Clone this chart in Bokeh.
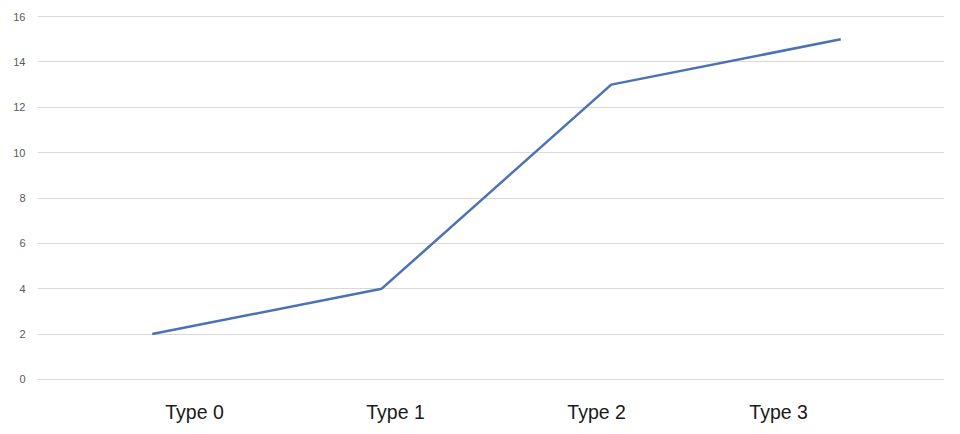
from bokeh.plotting import figure
from bokeh.models import FixedTicker, Range1d
from bokeh.embed import file_html
from bokeh.resources import INLINE

# data
categories = ["Type 0", "Type 1", "Type 2", "Type 3"]
values = [2, 4, 13, 15]
y_ticks = [0, 2, 4, 6, 8, 10, 12, 14, 16]

# points sit in the middle of each category slot
xs = [i + 0.5 for i in range(len(categories))]

# the category labels in the original are not under the points
label_pos = [0.684, 1.560, 2.436, 3.229]

p = figure(width=944, height=432, output_backend="svg", toolbar_location=None,
           x_range=Range1d(0, 3.952), y_range=Range1d(-0.05, 16.05),
           min_border_left=37, min_border_right=0, min_border_top=15, min_border_bottom=52)
p.outline_line_color = None

p.line(xs, values, line_color="#4a72b4", line_width=2.5)

# y axis
p.yaxis.ticker = FixedTicker(ticks=y_ticks)
p.yaxis.axis_line_color = None
p.yaxis.major_tick_line_color = None
p.yaxis.minor_tick_line_color = None
p.yaxis.major_tick_out = 0
p.yaxis.major_label_standoff = 12
p.yaxis.major_label_text_font = "Liberation Sans"
p.yaxis.major_label_text_font_size = "11px"
p.yaxis.major_label_text_color = "#595959"

# x axis
p.xaxis.ticker = FixedTicker(ticks=label_pos)
p.xaxis.major_label_overrides = {t: c for t, c in zip(label_pos, categories)}
p.xaxis.axis_line_color = None
p.xaxis.major_tick_line_color = None
p.xaxis.minor_tick_line_color = None
p.xaxis.major_tick_out = 0
p.xaxis.major_label_standoff = 20
p.xaxis.major_label_text_font = "Liberation Sans"
p.xaxis.major_label_text_font_size = "19.5px"
p.xaxis.major_label_text_color = "#1a1a1a"

p.xgrid.grid_line_color = None
p.ygrid.grid_line_color = "#d9d9d9"
p.ygrid.grid_line_width = 1

open("out.html", "w").write(file_html(p, INLINE))
